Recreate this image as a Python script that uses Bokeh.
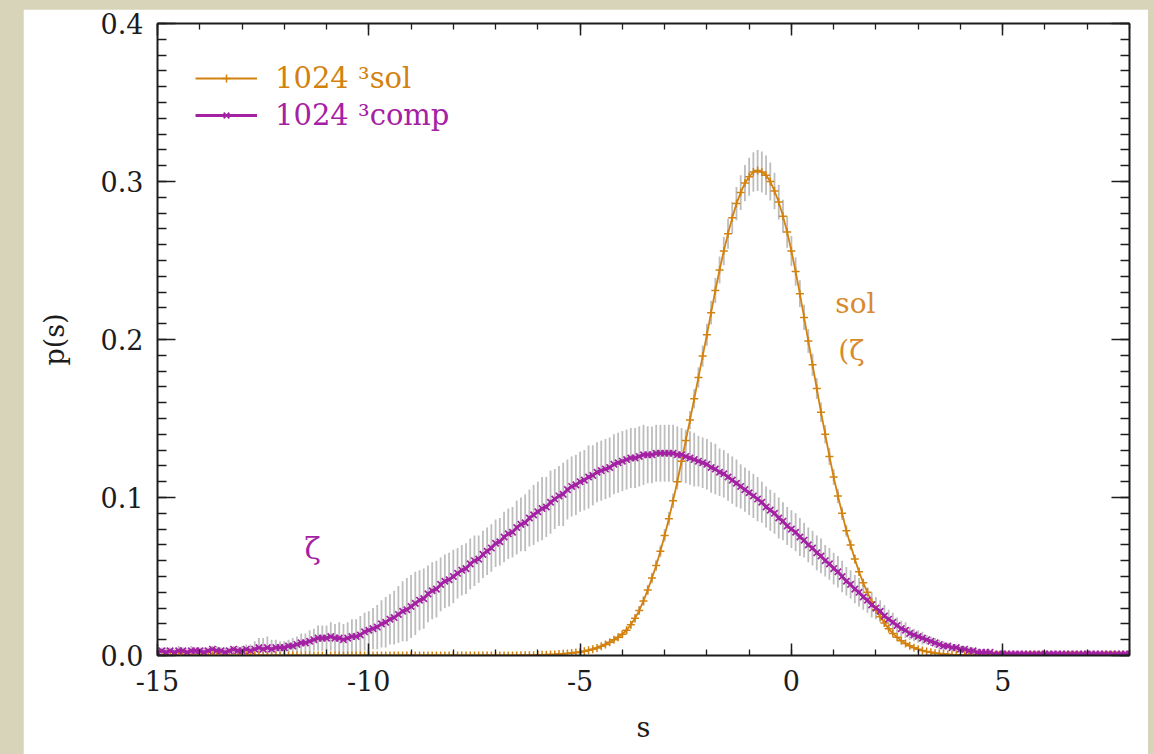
import numpy as np
from bokeh.plotting import figure
from bokeh.models import (Legend, LegendItem, Label, LinearAxis, FixedTicker,
                          Range1d, Spacer, Row, Column)
from bokeh.embed import file_html
from bokeh.resources import INLINE

# ---------------- data, grid s = -15.0 ... 8.0 step 0.1
S_START = -15.0
S_STEP = 0.1

sol_p = [
    0, 0, 0, 0, 0, 0, 0, 0, 0, 0,                                   # -15
    0, 0, 0, 0, 0, 0, 0, 0, 0, 0,                                   # -14
    0, 0, 0, 0, 0, 0, 0, 0, 0, 0,                                   # -13
    0, 0, 0, 0, 0, 0, 0, 0, 0, 0,                                   # -12
    0, 0, 0, 0, 0, 0, 0, 0, 0, 0,                                   # -11
    0, 0, 0, 0, 0, 0, 0, 0, 0, 0,                                   # -10
    0, 0, 0, 0, 0, 0, 0, 0, 0, 0,                                   # -9
    0, 0, 0, 0, 0, 0, 0, 0, 0, 0,                                   # -8
    0, 0, 0, 0, 0, 0, 0.0001, 0.0001, 0.0002, 0.0002,               # -7
    0.0003, 0.0004, 0.0005, 0.0006, 0.0007, 0.0009, 0.0011, 0.0013, 0.0016, 0.0019,  # -6
    0.0022, 0.0027, 0.0033, 0.0040, 0.0048, 0.0058, 0.0070, 0.0084, 0.0099, 0.0116,  # -5
    0.0135, 0.0160, 0.0195, 0.0235, 0.0285, 0.0345, 0.0415, 0.0490, 0.0570, 0.0660,  # -4
    0.0760, 0.0865, 0.0980, 0.1100, 0.1230, 0.1360, 0.1490, 0.1625, 0.1760, 0.1895,  # -3
    0.203, 0.217, 0.231, 0.244, 0.256, 0.267, 0.277, 0.286, 0.293, 0.299,            # -2
    0.303, 0.306, 0.307, 0.306, 0.304, 0.300, 0.294, 0.287, 0.278, 0.268,            # -1
    0.256, 0.243, 0.229, 0.214, 0.199, 0.184, 0.169, 0.154, 0.140, 0.126,            # 0
    0.113, 0.101, 0.090, 0.079, 0.070, 0.061, 0.053, 0.046, 0.040, 0.034,            # 1
    0.029, 0.0245, 0.0205, 0.017, 0.014, 0.0115, 0.0094, 0.0076, 0.0061, 0.0049,     # 2
    0.0039, 0.0031, 0.0025, 0.0020, 0.0015, 0.0012, 0.0009, 0.0007, 0.0005, 0.0004,  # 3
    0.0003, 0.0002, 0.0002, 0.0001, 0.0001, 0, 0, 0, 0, 0,         # 4
    0, 0, 0, 0, 0, 0, 0, 0, 0, 0,                                   # 5
    0, 0, 0, 0, 0, 0, 0, 0, 0, 0,                                   # 6
    0, 0, 0, 0, 0, 0, 0, 0, 0, 0,                                   # 7
    0,                                                              # 8
]

sol_err = [
    0, 0, 0, 0, 0, 0, 0, 0, 0, 0,
    0, 0, 0, 0, 0, 0, 0, 0, 0, 0,
    0, 0, 0, 0, 0, 0, 0, 0, 0, 0,
    0, 0, 0, 0, 0, 0, 0, 0, 0, 0,
    0, 0, 0, 0, 0, 0, 0, 0, 0, 0,
    0, 0, 0, 0, 0, 0, 0, 0, 0, 0,
    0, 0, 0, 0, 0, 0, 0, 0, 0, 0,
    0, 0, 0, 0, 0, 0, 0, 0, 0, 0,
    0, 0, 0, 0, 0, 0, 0, 0, 0, 0,
    0.0002, 0.0002, 0.0002, 0.0003, 0.0003, 0.0003, 0.0004, 0.0004, 0.0005, 0.0005,
    0.0006, 0.0007, 0.0008, 0.0009, 0.0010, 0.0011, 0.0012, 0.0014, 0.0016, 0.0018,
    0.0020, 0.0022, 0.0024, 0.0026, 0.0028, 0.0030, 0.0032, 0.0034, 0.0036, 0.0038,
    0.0040, 0.0043, 0.0046, 0.0049, 0.0052, 0.0055, 0.0058, 0.0061, 0.0064, 0.0067,
    0.0070, 0.0075, 0.0080, 0.0085, 0.0090, 0.0095, 0.0100, 0.0105, 0.0110, 0.0115,
    0.0120, 0.0125, 0.0130, 0.0130, 0.0125, 0.0120, 0.0115, 0.0110, 0.0105, 0.0100,
    0.0095, 0.0090, 0.0085, 0.0080, 0.0075, 0.0070, 0.0066, 0.0062, 0.0058, 0.0054,
    0.0050, 0.0046, 0.0042, 0.0038, 0.0034, 0.0030, 0.0027, 0.0024, 0.0021, 0.0018,
    0.0016, 0.0014, 0.0012, 0.0010, 0.0009, 0.0008, 0.0007, 0.0006, 0.0005, 0.0005,
    0.0004, 0.0004, 0.0003, 0.0003, 0.0003, 0.0002, 0.0002, 0.0002, 0.0001, 0.0001,
    0, 0, 0, 0, 0, 0, 0, 0, 0, 0,
    0, 0, 0, 0, 0, 0, 0, 0, 0, 0,
    0, 0, 0, 0, 0, 0, 0, 0, 0, 0,
    0, 0, 0, 0, 0, 0, 0, 0, 0, 0,
    0,
]

comp_p = [
    0.002, 0.003, 0.002, 0.003, 0.002, 0.003, 0.003, 0.002, 0.003, 0.003,  # -15
    0.003, 0.002, 0.003, 0.004, 0.003, 0.003, 0.002, 0.003, 0.004, 0.003,  # -14
    0.003, 0.004, 0.003, 0.004, 0.005, 0.004, 0.005, 0.004, 0.005, 0.005,  # -13
    0.005, 0.006, 0.006, 0.007, 0.008, 0.008, 0.009, 0.010, 0.011, 0.011,  # -12
    0.011, 0.012, 0.011, 0.011, 0.010, 0.011, 0.012, 0.012, 0.013, 0.015,  # -11
    0.016, 0.017, 0.018, 0.020, 0.021, 0.023, 0.024, 0.026, 0.028, 0.029,  # -10
    0.031, 0.033, 0.035, 0.036, 0.039, 0.041, 0.042, 0.045, 0.047, 0.048,  # -9
    0.050, 0.052, 0.054, 0.055, 0.058, 0.060, 0.061, 0.064, 0.066, 0.068,  # -8
    0.071, 0.072, 0.075, 0.077, 0.078, 0.081, 0.083, 0.084, 0.087, 0.089,  # -7
    0.091, 0.093, 0.094, 0.097, 0.099, 0.101, 0.102, 0.105, 0.107, 0.108,  # -6
    0.110, 0.111, 0.113, 0.114, 0.116, 0.117, 0.118, 0.119, 0.121, 0.122,  # -5
    0.123, 0.124, 0.125, 0.125, 0.126, 0.127, 0.127, 0.127, 0.128, 0.128,  # -4
    0.128, 0.128, 0.128, 0.127, 0.127, 0.126, 0.125, 0.124, 0.123, 0.122,  # -3
    0.121, 0.119, 0.118, 0.116, 0.115, 0.113, 0.111, 0.109, 0.107, 0.105,  # -2
    0.103, 0.101, 0.099, 0.097, 0.094, 0.092, 0.090, 0.087, 0.085, 0.082,  # -1
    0.080, 0.078, 0.075, 0.073, 0.070, 0.068, 0.065, 0.063, 0.060, 0.058,  # 0
    0.055, 0.053, 0.050, 0.047, 0.045, 0.042, 0.040, 0.037, 0.035, 0.032,  # 1
    0.030, 0.028, 0.025, 0.023, 0.021, 0.019, 0.017, 0.016, 0.014, 0.013,  # 2
    0.012, 0.011, 0.010, 0.009, 0.008, 0.007, 0.006, 0.006, 0.005, 0.005,  # 3
    0.004, 0.004, 0.003, 0.003, 0.002, 0.002, 0.002, 0.002, 0.001, 0.001,  # 4
    0.001, 0.001, 0.001, 0.001, 0.001, 0.001, 0.001, 0.001, 0.001, 0.001,  # 5
    0.001, 0.001, 0.001, 0.001, 0.001, 0.001, 0.001, 0.001, 0.001, 0.001,  # 6
    0.001, 0.001, 0.001, 0.001, 0.001, 0.001, 0.001, 0.001, 0.001, 0.001,  # 7
    0.001,                                                                  # 8
]

comp_err = [
    0.002, 0.002, 0.003, 0.002, 0.002, 0.003, 0.002, 0.002, 0.003, 0.002,
    0.002, 0.003, 0.002, 0.002, 0.003, 0.002, 0.003, 0.002, 0.002, 0.003,
    0.003, 0.003, 0.004, 0.005, 0.006, 0.007, 0.007, 0.006, 0.005, 0.004,
    0.004, 0.004, 0.005, 0.005, 0.006, 0.006, 0.007, 0.007, 0.008, 0.008,
    0.008, 0.009, 0.009, 0.010, 0.010, 0.010, 0.011, 0.011, 0.012, 0.012,
    0.012, 0.013, 0.014, 0.015, 0.016, 0.016, 0.017, 0.018, 0.019, 0.020,
    0.020, 0.020, 0.019, 0.019, 0.018, 0.018, 0.018, 0.017, 0.017, 0.017,
    0.017, 0.016, 0.016, 0.016, 0.016, 0.016, 0.015, 0.015, 0.015, 0.015,
    0.015, 0.015, 0.016, 0.016, 0.016, 0.017, 0.017, 0.018, 0.018, 0.019,
    0.019, 0.020, 0.019, 0.020, 0.019, 0.019, 0.020, 0.019, 0.019, 0.019,
    0.019, 0.019, 0.020, 0.019, 0.019, 0.019, 0.019, 0.019, 0.019, 0.019,
    0.019, 0.019, 0.019, 0.019, 0.019, 0.019, 0.018, 0.018, 0.018, 0.018,
    0.018, 0.018, 0.018, 0.018, 0.017, 0.017, 0.017, 0.017, 0.016, 0.016,
    0.016, 0.016, 0.016, 0.015, 0.015, 0.015, 0.015, 0.015, 0.014, 0.014,
    0.014, 0.014, 0.014, 0.013, 0.013, 0.013, 0.013, 0.013, 0.012, 0.012,
    0.012, 0.012, 0.012, 0.011, 0.011, 0.011, 0.011, 0.011, 0.010, 0.010,
    0.010, 0.010, 0.010, 0.009, 0.009, 0.009, 0.009, 0.008, 0.008, 0.008,
    0.007, 0.007, 0.007, 0.006, 0.006, 0.005, 0.005, 0.005, 0.004, 0.004,
    0.004, 0.004, 0.003, 0.003, 0.003, 0.003, 0.003, 0.002, 0.002, 0.002,
    0.002, 0.002, 0.002, 0.002, 0.002, 0.001, 0.001, 0.001, 0.001, 0.001,
    0.001, 0.001, 0.001, 0.001, 0.001, 0.001, 0.001, 0.001, 0.001, 0.001,
    0.001, 0.001, 0.001, 0.001, 0.001, 0.001, 0.001, 0.001, 0.001, 0.001,
    0.001, 0.001, 0.001, 0.001, 0.001, 0.001, 0.001, 0.001, 0.001, 0.001,
    0.001,
]

x_ticks = [-15, -10, -5, 0, 5]
x_tick_labels = ["-15", "-10", "-5", "0", "5"]
x_minor = list(range(-15, 9))
y_ticks = [0.0, 0.1, 0.2, 0.3, 0.4]
y_tick_labels = ["0.0", "0.1", "0.2", "0.3", "0.4"]
y_minor = [round(0.01 * i, 2) for i in range(41)]

series_labels = ["1024 \u00b3sol", "1024 \u00b3comp"]

# ---------------- styling
ORANGE = "#D4820F"
MAGENTA = "#A421A4"
GRAY = "#BDBDBD"
BEIGE = "#D8D4BA"
INK = "#1c1c1c"
FONT = "DejaVu Serif"

n = len(sol_p)
assert len(sol_err) == n and len(comp_p) == n and len(comp_err) == n
s = np.round(S_START + S_STEP * np.arange(n), 2)
sp, se = np.array(sol_p), np.array(sol_err)
cp, ce = np.array(comp_p), np.array(comp_err)

p = figure(width=1125, height=745, x_range=Range1d(-15, 8), y_range=Range1d(0, 0.4),
           output_backend="svg", toolbar_location=None,
           min_border_left=134, min_border_right=19, min_border_top=14, min_border_bottom=99,
           background_fill_color="white", border_fill_color="white")
p.xgrid.visible = False
p.ygrid.visible = False
p.outline_line_color = INK
p.outline_line_width = 1

# error bars
p.segment(x0=s, y0=cp - ce, x1=s, y1=cp + ce, line_color=GRAY, line_width=1.8)
p.segment(x0=s, y0=sp - se, x1=s, y1=sp + se, line_color=GRAY, line_width=1.8)

# series
r_sol_line = p.line(s, sp, line_color=ORANGE, line_width=1.8)
r_sol_pts = p.scatter(s, sp, marker="cross", size=8, line_color=ORANGE, line_width=1.5)
r_comp_line = p.line(s, cp, line_color=MAGENTA, line_width=3)
r_comp_pts = p.scatter(s, cp, marker="x", size=9, line_color=MAGENTA, line_width=1.7)


def style_axis(ax, major, minor, labels):
    ax.major_tick_in = major
    ax.major_tick_out = 0
    ax.minor_tick_in = minor
    ax.minor_tick_out = 0
    ax.axis_line_width = 2
    ax.axis_line_color = INK
    ax.major_tick_line_color = INK
    ax.minor_tick_line_color = INK
    ax.major_tick_line_width = 1.5
    ax.minor_tick_line_width = 1.3
    ax.major_label_text_font = FONT
    ax.axis_label_text_font = FONT
    ax.axis_label_text_font_style = "normal"
    ax.axis_label_text_color = INK
    if labels:
        ax.major_label_text_color = INK
        ax.major_label_text_font_size = "27px"
        ax.axis_label_text_font_size = "27px"
        ax.major_label_standoff = 14
    else:
        # mirrored axis: ticks only, labels not drawn at all
        ax.major_label_text_color = None
        ax.major_label_text_alpha = 0
        ax.major_label_text_font_size = "1px"
        ax.major_label_standoff = 0


xb = p.xaxis[0]
xb.ticker = FixedTicker(ticks=x_ticks, minor_ticks=x_minor)
xb.major_label_overrides = dict(zip(x_ticks, x_tick_labels))
xb.axis_label = "s"
style_axis(xb, 12, 6, True)
xb.axis_label_standoff = 18

yl = p.yaxis[0]
yl.ticker = FixedTicker(ticks=y_ticks, minor_ticks=y_minor)
yl.major_label_overrides = dict(zip(y_ticks, y_tick_labels))
yl.axis_label = "p(s)"
style_axis(yl, 18, 9, True)
yl.axis_label_standoff = 28

xt = LinearAxis(ticker=FixedTicker(ticks=x_ticks, minor_ticks=x_minor))
style_axis(xt, 12, 6, False)
p.add_layout(xt, "above")
yr = LinearAxis(ticker=FixedTicker(ticks=y_ticks, minor_ticks=y_minor))
style_axis(yr, 18, 9, False)
p.add_layout(yr, "right")


# legends (one per entry so each label keeps its own colour)
def make_legend(label, renderers, color, loc):
    lg = Legend(items=[LegendItem(label=label, renderers=renderers)], location=loc,
                border_line_color=None, background_fill_alpha=0, padding=0, margin=0,
                spacing=0, glyph_width=62, glyph_height=20, label_standoff=18,
                label_text_font=FONT, label_text_font_size="29px", label_text_color=color)
    p.add_layout(lg)


make_legend(series_labels[0], [r_sol_line, r_sol_pts], ORANGE, (38, 560))
make_legend(series_labels[1], [r_comp_line, r_comp_pts], MAGENTA, (38, 523))

# annotations
p.add_layout(Label(x=1.04, y=0.223, text="sol", text_font=FONT, text_font_size="28px",
                   text_color="#D98A2E", text_baseline="middle"))
p.add_layout(Label(x=1.11, y=0.193, text="(\u03b6", text_font=FONT, text_font_size="28px",
                   text_color="#D98A2E", text_baseline="middle"))
p.add_layout(Label(x=-11.52, y=0.068, text="\u03b6", text_font=FONT, text_font_size="30px",
                   text_color=MAGENTA, text_baseline="middle"))

page = Row(children=[
    Spacer(width=23, height=754, styles={"background-color": BEIGE}),
    Column(children=[Spacer(width=1125, height=9, styles={"background-color": BEIGE}), p],
           spacing=0),
    Spacer(width=6, height=754, styles={"background-color": BEIGE}),
], spacing=0, styles={"background-color": BEIGE})

open("out.html", "w").write(file_html(page, INLINE))
